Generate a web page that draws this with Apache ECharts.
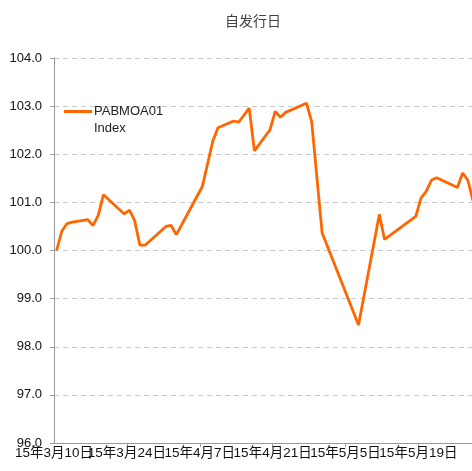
<!DOCTYPE html>
<html>
<head>
<meta charset="utf-8">
<script src="https://cdn.jsdelivr.net/npm/echarts@6/dist/echarts.min.js"></script>
<style>html,body{margin:0;padding:0;background:#fff;}#c{width:472px;height:471px;}</style>
</head>
<body>
<div id="c"></div>
<script>
var dates = ['2015-03-10','2015-03-11','2015-03-12','2015-03-13','2015-03-16','2015-03-17','2015-03-18','2015-03-19',
  '2015-03-23','2015-03-24','2015-03-25','2015-03-26','2015-03-27','2015-03-31','2015-04-01','2015-04-02',
  '2015-04-07','2015-04-09','2015-04-10','2015-04-13','2015-04-14','2015-04-16','2015-04-17','2015-04-20',
  '2015-04-21','2015-04-22','2015-04-23','2015-04-27','2015-04-28','2015-04-30','2015-05-07','2015-05-11',
  '2015-05-12','2015-05-18','2015-05-19','2015-05-20','2015-05-21','2015-05-22','2015-05-26','2015-05-27',
  '2015-05-28','2015-05-29'];
var values = [100.00,100.40,100.56,100.59,100.64,100.52,100.73,101.16,
  100.76,100.84,100.62,100.11,100.11,100.50,100.52,100.33,
  101.33,102.27,102.55,102.69,102.67,102.96,102.07,102.51,
  102.89,102.77,102.87,103.06,102.68,100.37,98.45,100.75,
  100.23,100.71,101.09,101.23,101.46,101.51,101.31,101.61,
  101.46,101.03];
var seriesName = 'PABMOA01 Index';
var legendLines = ['PABMOA01','Index'];
var titleText = '自发行日';
var startDate = '2015-03-10';
var yTicks = [96,97,98,99,100,101,102,103,104];

function dayIdx(s){
  var p = s.split('-').map(Number), q = startDate.split('-').map(Number);
  return (Date.UTC(p[0],p[1]-1,p[2]) - Date.UTC(q[0],q[1]-1,q[2]))/86400000;
}
function dayLabel(d){
  var q = startDate.split('-').map(Number);
  var t = new Date(Date.UTC(q[0],q[1]-1,q[2]) + Math.round(d)*86400000);
  return String(t.getUTCFullYear()).slice(2) + '年' + (t.getUTCMonth()+1) + '月' + t.getUTCDate() + '日';
}
var data = dates.map(function(d,i){ return [dayIdx(d)+0.5, values[i]]; });

var xMax = 80.3;
var labelFont = {fontFamily:'Liberation Sans, Noto Sans CJK SC', fontSize:13.5, color:'#111'};

var chart = echarts.init(document.getElementById('c'), null, {renderer:'canvas'});
chart.setOption({
  animation:false,
  backgroundColor:'#fff',
  title:{text:titleText, left:248, top:9, textAlign:'center',
    textStyle:{fontFamily:'Noto Sans CJK SC', fontSize:14, fontWeight:'normal', color:'#404040'}},
  legend:{data:[seriesName], left:64, top:103, padding:0, orient:'vertical',
    icon:'path://M0,7L28,7L28,10L0,10Z M0,0L0.01,0L0,0.01Z M0,34L0.01,34L0,33.99Z',
    itemWidth:28, itemHeight:34, itemGap:0,
    formatter:function(){ return legendLines.join('\n'); },
    textStyle:{fontFamily:'Liberation Sans', fontSize:13, color:'#222', lineHeight:17, padding:[0,0,0,-3]}},
  grid:{left:54, right:0, top:58, bottom:28, containLabel:false},
  xAxis:[{type:'value', min:0, max:xMax, interval:14,
    axisLine:{show:true, lineStyle:{color:'#999', width:1}},
    axisTick:{show:true, length:4, lineStyle:{color:'#999'}},
    splitLine:{show:false},
    axisLabel:Object.assign({showMinLabel:false, showMaxLabel:false, margin:4,
      formatter:function(v){ return (v <= 0 || v > 80) ? '' : dayLabel(v); }}, labelFont)},
  {type:'value', min:0, max:xMax, interval:14, position:'bottom',
    axisLine:{show:false}, axisTick:{show:false}, splitLine:{show:false},
    axisLabel:Object.assign({showMinLabel:true, showMaxLabel:false, margin:4,
      formatter:function(v){ return v === 0 ? dayLabel(v) : ''; }}, labelFont)}],
  yAxis:{type:'value', min:yTicks[0], max:yTicks[yTicks.length-1], interval:1,
    axisLine:{show:true, lineStyle:{color:'#999', width:1}},
    axisTick:{show:true, length:4, lineStyle:{color:'#999'}},
    splitLine:{show:true, lineStyle:{color:'#c8c8c8', type:[5,4], width:1}},
    axisLabel:{margin:12, fontFamily:'Liberation Sans', fontSize:13, color:'#111',
      formatter:function(v){ return v.toFixed(1); }}},
  series:[{name:seriesName, type:'line', xAxisIndex:0, data:data, symbol:'none', clip:true,
    lineStyle:{color:'#FF6600', width:2.8}, itemStyle:{color:'#FF6600'}}]
});
</script>
</body>
</html>
